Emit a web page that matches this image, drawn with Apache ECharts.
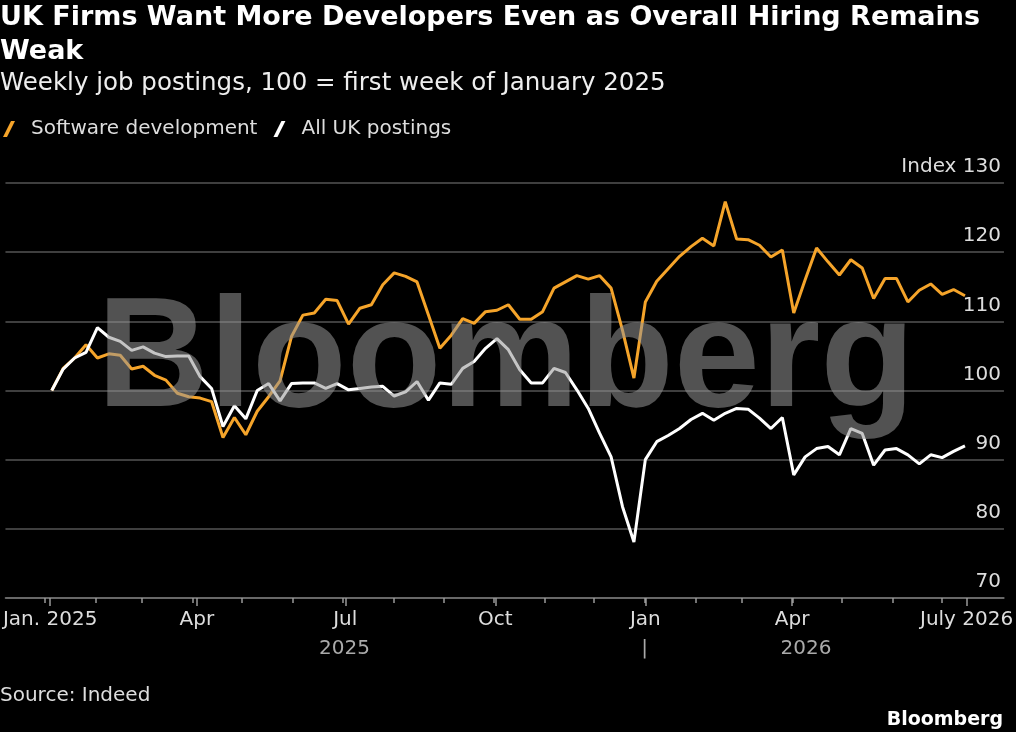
<!DOCTYPE html>
<html><head><meta charset="utf-8">
<script src="https://cdn.jsdelivr.net/npm/echarts@6/dist/echarts.min.js"></script>
<style>html,body{margin:0;padding:0;background:#000;}#c{width:1016px;height:732px;}</style>
</head><body><div id="c"></div>
<script>
// ---- data ----
const seriesNames = ['Software development', 'All UK postings'];
const softwareDev = [
  100.0, 103.2, 104.7, 106.6, 104.7, 105.3, 105.1, 103.1, 103.5, 102.2,
  101.5, 99.6, 99.1, 98.9, 98.4, 93.2, 96.1, 93.6, 97.0, 99.1,
  101.4, 107.8, 110.9, 111.2, 113.2, 113.0, 109.6, 111.9, 112.4, 115.3,
  117.0, 116.5, 115.7, 110.9, 106.1, 108.0, 110.4, 109.7, 111.4, 111.6,
  112.4, 110.3, 110.3, 111.4, 114.8, 115.7, 116.6, 116.1, 116.6, 114.8,
  108.7, 101.8, 112.8, 115.8, 117.6, 119.4, 120.8, 122.0, 120.9, 127.3,
  121.9, 121.8, 121.0, 119.3, 120.3, 111.2, 116.0, 120.6, 118.6, 116.7,
  118.9, 117.7, 113.3, 116.2, 116.2, 112.8, 114.5, 115.4, 113.9, 114.6,
  113.7
];
const allUK = [
  100.0, 103.1, 104.7, 105.5, 109.1, 107.7, 107.1, 105.8, 106.3, 105.4,
  104.9, 105.0, 105.0, 102.0, 100.3, 94.8, 97.8, 95.9, 100.0, 101.0,
  98.5, 101.0, 101.1, 101.1, 100.3, 101.0, 100.1, 100.3, 100.5, 100.6,
  99.2, 99.8, 101.3, 98.6, 101.1, 100.9, 103.2, 104.2, 106.1, 107.5,
  105.9, 103.0, 101.1, 101.1, 103.2, 102.6, 100.1, 97.4, 93.8, 90.4,
  83.2, 78.1, 90.0, 92.6, 93.5, 94.5, 95.8, 96.7, 95.7, 96.7,
  97.4, 97.3, 96.0, 94.5, 96.1, 87.8, 90.4, 91.6, 91.9, 90.7,
  94.5, 93.8, 89.2, 91.4, 91.6, 90.7, 89.4, 90.7, 90.3, 91.2,
  92.0
];
// x positions: days after 1 Jan 2025 of each weekly observation
const firstWeekDay = 1;
const daysPerWeek = 7;
// axis ticks (days after 1 Jan 2025)
const monthStartDays = [0, 31, 59, 90, 120, 151, 181, 212, 243, 273, 304, 334, 365, 396, 424, 455, 485, 516, 546];
const majorTickDays = [0, 90, 181, 273, 365, 455, 562];
const majorTickLabels = ['Jan. 2025', 'Apr', 'Jul', 'Oct', 'Jan', 'Apr', 'July 2026'];
const yearLabelDays = [182.3, 365, 463.2];
const yearLabels = ['2025', '|', '2026'];
const yMin = 70, yMax = 130, yStep = 10;

// ---- chart ----
const FONT = 'DejaVu Sans';
const ORANGE = '#f5a42a';
const toPairs = arr => arr.map((v, i) => [firstWeekDay + daysPerWeek * i, v]);
const pxPerDay = 1.643, day0X = 45, gridLeft = 0, gridRight = 10, W = 1016;
const xMin = (gridLeft - day0X) / pxPerDay;
const xMax = (W - gridRight - day0X) / pxPerDay;

const chart = echarts.init(document.getElementById('c'), null, {renderer: 'canvas'});
const gridBox = {left: gridLeft, right: gridRight, top: 183, bottom: 134};
chart.setOption({
  backgroundColor: '#000',
  animation: false,
  title: [
    {text: 'UK Firms Want More Developers Even as Overall Hiring Remains\nWeak', left: 0, top: 1, padding: 0,
     textStyle: {color: '#fff', fontFamily: FONT, fontWeight: 'bold', fontSize: 27, lineHeight: 34}},
    {text: 'Weekly job postings, 100 = first week of January 2025', left: 0, top: 70, padding: 0,
     textStyle: {color: '#eee', fontFamily: FONT, fontWeight: 'normal', fontSize: 24.5, lineHeight: 28}}
  ],
  legend: {
    data: seriesNames, left: 3, top: 119, padding: 0,
    icon: 'path://M8,0 L12,0 L4,16 L0,16 Z', itemWidth: 12, itemHeight: 17, itemGap: 16,
    textStyle: {color: '#ddd', fontFamily: FONT, fontSize: 20, padding: [0, 0, 0, 11]}
  },
  grid: [gridBox, Object.assign({}, gridBox)],
  xAxis: [
    {type: 'value', gridIndex: 0, min: xMin, max: xMax,
     axisLine: {show: true, lineStyle: {color: '#777', width: 1.5}},
     axisTick: {show: true, customValues: majorTickDays, length: 8, lineStyle: {color: '#999', width: 1.5}},
     axisLabel: {customValues: majorTickDays, margin: 12, color: '#ddd', fontFamily: FONT, fontSize: 20,
       formatter: v => { const i = majorTickDays.indexOf(v); return i >= 0 ? majorTickLabels[i] : ''; }},
     splitLine: {show: false}},
    {type: 'value', gridIndex: 1, min: xMin, max: xMax,
     axisLine: {show: false},
     axisTick: {show: true, customValues: monthStartDays, length: 5, lineStyle: {color: '#999', width: 1.5}},
     axisLabel: {customValues: yearLabelDays, margin: 41, color: '#aaa', fontFamily: FONT, fontSize: 20,
       formatter: v => { const i = yearLabelDays.indexOf(v); return i >= 0 ? yearLabels[i] : ''; }},
     splitLine: {show: false}}
  ],
  yAxis: [
    {type: 'value', gridIndex: 0, min: yMin, max: yMax, interval: yStep, position: 'right',
     axisLine: {show: false}, axisTick: {show: false},
     splitLine: {show: true, lineStyle: {color: '#555', width: 1.5}},
     axisLabel: {inside: true, margin: 3, verticalAlign: 'bottom', padding: [0, 0, 6, 0],
       color: '#ddd', fontFamily: FONT, fontSize: 20,
       formatter: v => v === yMax ? 'Index ' + v : String(v)}},
    {type: 'value', gridIndex: 1, min: yMin, max: yMax, show: false}
  ],
  series: [
    {name: seriesNames[0], type: 'line', xAxisIndex: 0, yAxisIndex: 0, data: toPairs(softwareDev),
     showSymbol: false, color: ORANGE, lineStyle: {color: ORANGE, width: 3}},
    {name: seriesNames[1], type: 'line', xAxisIndex: 0, yAxisIndex: 0, data: toPairs(allUK),
     showSymbol: false, color: '#fff', lineStyle: {color: '#fff', width: 3}}
  ],
  graphic: [
    {type: 'text', x: 506, y: 363, z: 100, silent: true,
     style: {text: 'Bloomberg', font: 'bold 155px "Liberation Sans", Arial, sans-serif',
       fill: 'rgba(150,150,150,0.55)', align: 'center', verticalAlign: 'middle'}},
    {type: 'text', x: 0, y: 696, style: {text: 'Source: Indeed', font: '20px "DejaVu Sans"', fill: '#ddd', verticalAlign: 'middle'}},
    {type: 'text', x: 1003, y: 720, style: {text: 'Bloomberg', font: 'bold 19px "DejaVu Sans"', fill: '#fff', align: 'right', verticalAlign: 'middle'}}
  ]
});
</script></body></html>
